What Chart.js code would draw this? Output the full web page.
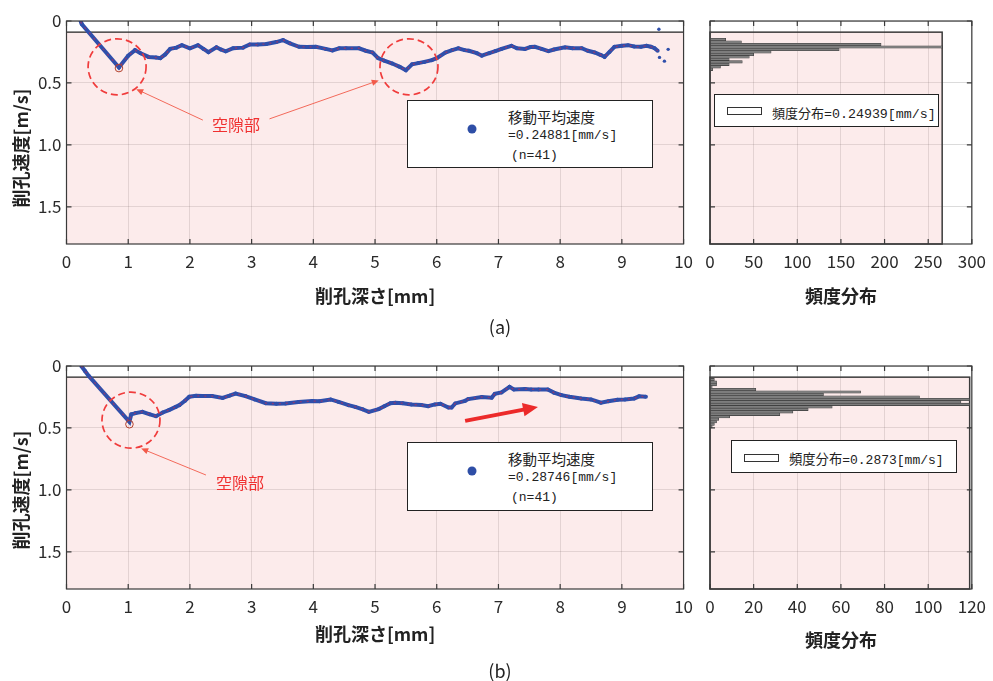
<!DOCTYPE html>
<html>
<head>
<meta charset="utf-8">
<script src="https://cdn.jsdelivr.net/npm/chart.js@4.4.0/dist/chart.umd.min.js"></script>
<style>
  body { margin: 0; background: #fff; }
  #wrap { position: relative; width: 993px; height: 681px; overflow: hidden; font-family: "Noto Sans CJK JP", "Noto Sans", sans-serif; color: #222; }
  canvas { position: absolute; }
  .lbl { position: absolute; white-space: nowrap; line-height: 1; }
  .ytitle { position: absolute; white-space: nowrap; font-weight: bold; font-size: 18px; transform: translate(-50%, -50%) rotate(-90deg); }
  .box { position: absolute; border: 1px solid #222; background: #fff; }
  .mono { font-family: "Liberation Mono", "Noto Sans CJK JP", monospace; }
  .cjk { font-family: "Noto Sans CJK JP", sans-serif; }
  .dot { position: absolute; width: 9px; height: 9px; border-radius: 50%; background: #2e4ea6; transform: translate(-50%, -50%); }
  .sym { position: absolute; border: 1px solid #333; background: #fff; }
  .void { color: #f03030; font-size: 16px; transform: translate(-50%, -50%); }
</style>
</head>
<body>
<div id="wrap">
  <canvas id="cA" width="700" height="315" style="left:0;top:0"></canvas>
  <canvas id="cB" width="303" height="315" style="left:690px;top:0"></canvas>
  <canvas id="cC" width="700" height="315" style="left:0;top:345px"></canvas>
  <canvas id="cD" width="303" height="315" style="left:690px;top:345px"></canvas>

  <div class="ytitle" style="left:20px;top:148px">削孔速度[m/s]</div>
  <div class="ytitle" style="left:20px;top:490px">削孔速度[m/s]</div>

  <div class="lbl void" style="left:236px;top:124px">空隙部</div>
  <div class="lbl void" style="left:240px;top:482px">空隙部</div>

  <div class="box" style="left:407px;top:100px;width:244px;height:66px">
    <div class="dot" style="left:64px;top:28px"></div>
    <div class="lbl cjk" style="left:100px;top:9px;font-size:14.5px">移動平均速度</div>
    <div class="lbl mono" style="left:100px;top:28px;font-size:13px">=0.24881[mm/s]</div>
    <div class="lbl mono" style="left:103px;top:48px;font-size:13px">(n=41)</div>
  </div>
  <div class="box" style="left:714px;top:94px;width:223px;height:31px">
    <div class="sym" style="left:12px;top:12px;width:33px;height:6px"></div>
    <div class="lbl" style="left:57px;top:8px"><span class="cjk" style="font-size:13px">頻度分布</span><span class="mono" style="font-size:13.3px">=0.24939[mm/s]</span></div>
  </div>

  <div class="box" style="left:407px;top:442px;width:244px;height:67px">
    <div class="dot" style="left:64px;top:28px"></div>
    <div class="lbl cjk" style="left:100px;top:9px;font-size:14.5px">移動平均速度</div>
    <div class="lbl mono" style="left:100px;top:28px;font-size:13px">=0.28746[mm/s]</div>
    <div class="lbl mono" style="left:103px;top:48px;font-size:13px">(n=41)</div>
  </div>
  <div class="box" style="left:731px;top:440px;width:224px;height:31px">
    <div class="sym" style="left:12px;top:13px;width:33px;height:6px"></div>
    <div class="lbl" style="left:57px;top:8px"><span class="cjk" style="font-size:13.3px">頻度分布</span><span class="mono" style="font-size:13px">=0.2873[mm/s]</span></div>
  </div>

  <div class="lbl" style="left:500px;top:326px;font-size:18px;transform:translate(-50%,-50%)">(a)</div>
  <div class="lbl" style="left:500px;top:670px;font-size:18px;transform:translate(-50%,-50%)">(b)</div>
</div>

<script>
// ---- data ----
// (a) moving average drilling speed vs depth
const depthA = [0.23, 0.25, 0.85, 1.00, 1.11, 1.20, 1.33, 1.45, 1.52, 1.60, 1.68, 1.78, 1.87, 2.00, 2.13, 2.22, 2.30, 2.43, 2.50, 2.58,
  2.70, 2.86, 2.97, 3.10, 3.24, 3.40, 3.51, 3.62, 3.77, 3.90, 4.04, 4.20, 4.31, 4.42, 4.53, 4.74, 4.85, 4.96, 5.05, 5.15,
  5.28, 5.40, 5.50, 5.60, 5.70, 5.80, 5.92, 6.00, 6.14, 6.25, 6.35, 6.45, 6.52, 6.65, 6.73, 6.85, 6.95, 7.05, 7.21, 7.30,
  7.43, 7.52, 7.59, 7.70, 7.81, 7.90, 8.08, 8.20, 8.35, 8.45, 8.56, 8.66, 8.72, 8.80, 8.88, 9.00, 9.10, 9.20, 9.31, 9.40,
  9.47, 9.53, 9.58];
const speedA = [0.005, 0.027, 0.375, 0.28, 0.235, 0.26, 0.29, 0.295, 0.30, 0.27, 0.225, 0.215, 0.195, 0.22, 0.195, 0.225, 0.252, 0.212, 0.23, 0.245,
  0.22, 0.215, 0.19, 0.19, 0.185, 0.17, 0.154, 0.18, 0.208, 0.21, 0.208, 0.225, 0.238, 0.22, 0.22, 0.22, 0.24, 0.255, 0.30, 0.32,
  0.343, 0.37, 0.397, 0.35, 0.34, 0.33, 0.316, 0.30, 0.255, 0.235, 0.22, 0.235, 0.24, 0.26, 0.28, 0.26, 0.243, 0.225, 0.20, 0.22,
  0.225, 0.21, 0.208, 0.225, 0.243, 0.23, 0.213, 0.22, 0.22, 0.24, 0.254, 0.275, 0.29, 0.25, 0.208, 0.20, 0.195, 0.205, 0.208, 0.20,
  0.208, 0.22, 0.24];
const strayDepthA = [9.60, 9.61, 9.69, 9.75];
const straySpeedA = [0.067, 0.294, 0.324, 0.229];
const minDepthA = [0.85];
const minSpeedA = [0.38];

// (b)
const depthB = [0.24, 0.30, 0.36, 1.02, 1.05, 1.12, 1.23, 1.35, 1.45, 1.56, 1.66, 1.77, 1.83, 1.92, 1.99, 2.10, 2.20, 2.36, 2.53, 2.64,
  2.74, 2.90, 3.05, 3.23, 3.40, 3.55, 3.76, 3.98, 4.10, 4.28, 4.41, 4.57, 4.68, 4.80, 4.90, 5.06, 5.15, 5.25, 5.33, 5.45,
  5.59, 5.75, 5.86, 5.97, 6.06, 6.19, 6.24, 6.30, 6.46, 6.51, 6.73, 6.89, 6.94, 7.05, 7.18, 7.25, 7.43, 7.53, 7.65, 7.80,
  7.90, 8.02, 8.15, 8.34, 8.50, 8.66, 8.78, 8.93, 9.05, 9.20, 9.28, 9.39];
const speedB = [0.0, 0.04, 0.08, 0.45, 0.39, 0.38, 0.37, 0.39, 0.405, 0.375, 0.356, 0.33, 0.316, 0.28, 0.248, 0.24, 0.243, 0.243, 0.258, 0.24,
  0.222, 0.243, 0.27, 0.30, 0.305, 0.302, 0.29, 0.283, 0.285, 0.27, 0.29, 0.316, 0.33, 0.35, 0.37, 0.348, 0.325, 0.30, 0.297, 0.30,
  0.31, 0.315, 0.324, 0.31, 0.305, 0.335, 0.335, 0.302, 0.281, 0.267, 0.25, 0.256, 0.225, 0.213, 0.168, 0.19, 0.186, 0.189, 0.19, 0.19,
  0.215, 0.235, 0.248, 0.262, 0.27, 0.296, 0.285, 0.272, 0.27, 0.262, 0.245, 0.248];
const minDepthB = [1.02];
const minSpeedB = [0.47];

// histograms (bin centre [m/s], count)
const binsA = [0.09, 0.11, 0.13, 0.15, 0.17, 0.19, 0.21, 0.23, 0.25, 0.27, 0.29, 0.31, 0.33, 0.35, 0.37, 0.39];
const countsA = [1, 0, 0, 18, 36, 196, 266, 148, 70, 50, 45, 22, 37, 22, 12, 3];
const binsB = [0.11, 0.13, 0.15, 0.17, 0.19, 0.21, 0.23, 0.25, 0.27, 0.29, 0.31, 0.33, 0.35, 0.37, 0.39, 0.41, 0.43, 0.45, 0.47, 0.49];
const countsB = [2, 3, 3, 1, 21, 69, 52, 96, 119, 115, 119, 56, 45, 38, 32, 9, 4, 3, 2, 1];

const bandTop = 0.09;   // top of shaded band
const speedMax = 1.8;

// ---- styling ----
const BLUE = '#2f4fab';
const PINK = 'rgba(245,190,190,0.3)';
const GRID = 'rgba(0,0,0,0.14)';
Chart.defaults.font.family = '"Noto Sans CJK JP", "Noto Sans", sans-serif';
Chart.defaults.color = '#2a2a2a';

const pts = (xs, ys) => xs.map((x, i) => ({ x: x, y: ys[i] }));

function yAxis(width, labels) {
  return {
    type: 'linear', reverse: true, min: 0, max: speedMax, offset: false,
    afterFit: s => { s.width = width; },
    grid: { color: GRID, drawTicks: false, offset: false },
    border: { display: false },
    ticks: { display: labels, stepSize: 0.5, includeBounds: false, padding: 5, font: { size: 17 },
      callback: v => v === 0 ? '0' : v.toFixed(1) }
  };
}

function xAxis(max, step, title, titlePad, height) {
  return {
    type: 'linear', min: 0, max: max, offset: false,
    afterFit: s => { s.height = height; },
    grid: { color: GRID, drawTicks: false, offset: false },
    border: { display: false },
    ticks: { stepSize: step, padding: 7, autoSkip: false, maxRotation: 0, font: { size: 17 } },
    title: { display: true, text: title, color: '#222', font: { size: 18, weight: 'bold' }, padding: { top: 0, bottom: titlePad } }
  };
}

// axes frame with small inward ticks
const frame = {
  id: 'frame',
  afterDatasetsDraw(chart) {
    const { ctx, chartArea: a, scales: { x, y } } = chart;
    ctx.save();
    ctx.strokeStyle = '#3a3a3a';
    ctx.lineWidth = 1.2;
    ctx.strokeRect(a.left, a.top, a.right - a.left, a.bottom - a.top);
    ctx.beginPath();
    x.ticks.forEach(t => {
      const p = x.getPixelForValue(t.value);
      ctx.moveTo(p, a.top); ctx.lineTo(p, a.top + 5);
      ctx.moveTo(p, a.bottom); ctx.lineTo(p, a.bottom - 5);
    });
    y.ticks.forEach(t => {
      const p = y.getPixelForValue(t.value);
      ctx.moveTo(a.left, p); ctx.lineTo(a.left + 5, p);
      ctx.moveTo(a.right, p); ctx.lineTo(a.right - 5, p);
    });
    ctx.stroke();
    ctx.restore();
  }
};

// shaded band behind the histogram bars
const histBand = {
  id: 'histBand',
  beforeDatasetsDraw(chart, args, o) {
    const { ctx, scales: { x, y } } = chart;
    const l = x.getPixelForValue(0), r = x.getPixelForValue(o.right);
    const t = y.getPixelForValue(o.top), b = y.getPixelForValue(speedMax);
    ctx.save();
    ctx.fillStyle = PINK;
    ctx.fillRect(l, t, r - l, b - t);
    ctx.strokeStyle = '#3a3a3a';
    ctx.lineWidth = 1.5;
    ctx.strokeRect(l, t, r - l, b - t);
    ctx.restore();
  }
};

function arrow(ctx, x1, y1, x2, y2, w, head, color) {
  const ang = Math.atan2(y2 - y1, x2 - x1);
  ctx.strokeStyle = color; ctx.fillStyle = color; ctx.lineWidth = w;
  ctx.beginPath();
  ctx.moveTo(x1, y1);
  ctx.lineTo(x2 - Math.cos(ang) * head * 0.8, y2 - Math.sin(ang) * head * 0.8);
  ctx.stroke();
  ctx.beginPath();
  ctx.moveTo(x2, y2);
  ctx.lineTo(x2 - head * Math.cos(ang) + head * 0.45 * Math.sin(ang), y2 - head * Math.sin(ang) - head * 0.45 * Math.cos(ang));
  ctx.lineTo(x2 - head * Math.cos(ang) - head * 0.45 * Math.sin(ang), y2 - head * Math.sin(ang) + head * 0.45 * Math.cos(ang));
  ctx.closePath();
  ctx.fill();
}

// dashed circles round the voids and the pointer arrows
const marks = {
  id: 'marks',
  afterDatasetsDraw(chart, args, o) {
    const { ctx, scales: { x, y } } = chart;
    ctx.save();
    ctx.strokeStyle = '#f03c3c';
    ctx.lineWidth = 1.7;
    ctx.setLineDash([7, 4]);
    (o.circles || []).forEach(c => {
      ctx.beginPath();
      ctx.ellipse(x.getPixelForValue(c[0]), y.getPixelForValue(c[1]), 29, 28, 0, 0, Math.PI * 2);
      ctx.stroke();
    });
    ctx.setLineDash([]);
    (o.pointers || []).forEach(p => arrow(ctx, x.getPixelForValue(p[0]), y.getPixelForValue(p[1]),
      x.getPixelForValue(p[2]), y.getPixelForValue(p[3]), 0.9, 7, '#f25a4a'));
    (o.trend || []).forEach(p => arrow(ctx, x.getPixelForValue(p[0]), y.getPixelForValue(p[1]),
      x.getPixelForValue(p[2]), y.getPixelForValue(p[3]), 4, 15, '#ec2a2a'));
    ctx.restore();
  }
};

function traceChart(id, depth, speed, minD, minS, stray, marksOpt, titlePad) {
  const datasets = [
    { data: [{ x: 0, y: bandTop }, { x: 10, y: bandTop }], showLine: true, pointRadius: 0,
      borderColor: '#222', borderWidth: 1.3, backgroundColor: PINK, fill: { value: speedMax }, order: 10 },
    { data: pts(depth, speed), showLine: true, borderColor: BLUE, borderWidth: 4,
      pointRadius: 2, pointBackgroundColor: BLUE, pointBorderWidth: 0, order: 3 },
    { data: pts(depth, speed), showLine: true, borderColor: 'rgba(205,45,80,0.6)', borderWidth: 1.3,
      borderDash: [2, 5], pointRadius: 0, order: 2 },
    { data: pts(minD, minS), pointRadius: 3.8, pointBorderColor: '#b2402c', pointBorderWidth: 1,
      pointBackgroundColor: 'rgba(0,0,0,0)', order: 1 }
  ];
  if (stray) {
    datasets.push({ data: pts(stray[0], stray[1]), pointRadius: 1.7, pointBackgroundColor: BLUE, pointBorderWidth: 0, order: 1 });
  }
  return new Chart(document.getElementById(id), {
    type: 'scatter',
    data: { datasets: datasets },
    options: {
      responsive: false, animation: false,
      layout: { padding: { top: 21, right: 13.5, left: 0, bottom: 0 } },
      plugins: { legend: { display: false }, tooltip: { enabled: false }, marks: marksOpt },
      scales: {
        x: xAxis(10, 1, '削孔深さ[mm]', titlePad, 71),
        y: yAxis(66.5, true)
      }
    },
    plugins: [frame, marks]
  });
}

function histChart(id, bins, counts, xmax, step, titlePad) {
  return new Chart(document.getElementById(id), {
    type: 'bar',
    data: {
      datasets: [{
        data: pts(counts, bins),
        backgroundColor: '#7d7d7d', borderColor: '#3a3a3a', borderWidth: 0.6,
        barPercentage: 1, categoryPercentage: 1
      }]
    },
    options: {
      indexAxis: 'y',
      responsive: false, animation: false,
      layout: { padding: { top: 21, right: 17, left: 0, bottom: 0 } },
      plugins: { legend: { display: false }, tooltip: { enabled: false },
        histBand: { top: bandTop, right: Math.max(...counts) } },
      scales: {
        x: xAxis(xmax, step, '頻度分布', titlePad, 71),
        y: yAxis(20, false)
      }
    },
    plugins: [histBand, frame]
  });
}

traceChart('cA', depthA, speedA, minDepthA, minSpeedA, [strayDepthA, straySpeedA], {
  circles: [[0.82, 0.37], [5.55, 0.37]],
  pointers: [[2.21, 0.80, 1.13, 0.55], [3.29, 0.79, 5.06, 0.48]]
}, 8);
histChart('cB', binsA, countsA, 300, 50, 8);
traceChart('cC', depthB, speedB, minDepthB, minSpeedB, null, {
  circles: [[1.045, 0.437]],
  pointers: [[2.26, 0.88, 1.21, 0.666]],
  trend: [[6.46, 0.443, 7.64, 0.33]]
}, 15);
histChart('cD', binsB, countsB, 120, 20, 9);
</script>
</body>
</html>
